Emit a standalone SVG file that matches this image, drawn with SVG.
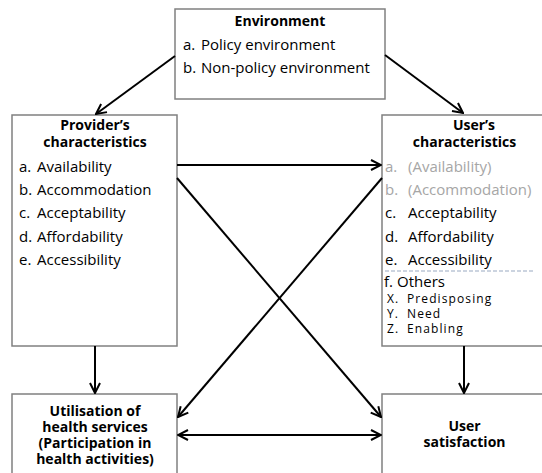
<svg xmlns="http://www.w3.org/2000/svg" width="542" height="473" viewBox="0 0 542 473">
  <style>
    .box { fill: #ffffff; stroke: #808080; stroke-width: 1.5; }
    .t { font-family: "Open Sans", "Liberation Sans", sans-serif; font-size: 15px; fill: #000000; }
    .h { font-family: "Open Sans", "Liberation Sans", sans-serif; font-size: 14px; font-weight: bold; fill: #000000; text-anchor: middle; }
    .g { fill: #a6a6a6; }
    .s { font-size: 12px; letter-spacing: 1.1px; }
    .edge { stroke: #000000; stroke-width: 2; fill: none; }
  </style>
  <defs>
    <marker id="arrow" viewBox="0 0 12 12" refX="11" refY="6" markerWidth="12" markerHeight="12" markerUnits="userSpaceOnUse" orient="auto-start-reverse">
      <path d="M1,1 L11,6 L1,11" fill="none" stroke="#000000" stroke-width="2"/>
    </marker>
  </defs>
  <rect width="542" height="473" fill="#ffffff"/>

  <g id="environment">
    <rect class="box" x="175" y="9" width="210" height="90"/>
    <text class="h" x="280" y="26">Environment</text>
    <text class="t" y="50"><tspan x="183">a.</tspan><tspan x="201">Policy environment</tspan></text>
    <text class="t" y="73"><tspan x="183">b.</tspan><tspan x="201">Non-policy environment</tspan></text>
  </g>

  <g id="provider">
    <rect class="box" x="12" y="115" width="165" height="231"/>
    <text class="h" x="95" y="130">Provider’s</text>
    <text class="h" x="95" y="147">characteristics</text>
    <text class="t" y="172"><tspan x="19">a.</tspan><tspan x="37">Availability</tspan></text>
    <text class="t" y="195"><tspan x="19">b.</tspan><tspan x="37">Accommodation</tspan></text>
    <text class="t" y="218"><tspan x="19">c.</tspan><tspan x="37">Acceptability</tspan></text>
    <text class="t" y="242"><tspan x="19">d.</tspan><tspan x="37">Affordability</tspan></text>
    <text class="t" y="265"><tspan x="19">e.</tspan><tspan x="37">Accessibility</tspan></text>
  </g>

  <g id="user">
    <rect class="box" x="382" y="115" width="170" height="231"/>
    <text class="h" x="474" y="130">User’s</text>
    <text class="h" x="464.5" y="147">characteristics</text>
    <text class="t g" y="172"><tspan x="385">a.</tspan><tspan x="408">(Availability)</tspan></text>
    <text class="t g" y="195"><tspan x="385">b.</tspan><tspan x="408">(Accommodation)</tspan></text>
    <text class="t" y="218"><tspan x="385">c.</tspan><tspan x="408">Acceptability</tspan></text>
    <text class="t" y="242"><tspan x="385">d.</tspan><tspan x="408">Affordability</tspan></text>
    <text class="t" y="265"><tspan x="385">e.</tspan><tspan x="408">Accessibility</tspan></text>
    <line x1="385" y1="271" x2="533" y2="271" stroke="#9aa9c2" stroke-width="1.2" stroke-dasharray="4,2"/>
    <text class="t" y="287"><tspan x="384">f.</tspan><tspan x="397">Others</tspan></text>
    <text class="t s" y="303"><tspan x="387">X.</tspan><tspan x="407">Predisposing</tspan></text>
    <text class="t s" y="318"><tspan x="387">Y.</tspan><tspan x="407">Need</tspan></text>
    <text class="t s" y="333"><tspan x="387">Z.</tspan><tspan x="407">Enabling</tspan></text>
  </g>

  <g id="utilisation">
    <rect class="box" x="12" y="394" width="165" height="90"/>
    <text class="h" x="95" y="416">Utilisation of</text>
    <text class="h" x="95" y="432">health services</text>
    <text class="h" x="95" y="448">(Participation in</text>
    <text class="h" x="95" y="464">health activities)</text>
  </g>

  <g id="satisfaction">
    <rect class="box" x="382" y="394" width="170" height="90"/>
    <text class="h" x="464.5" y="431">User</text>
    <text class="h" x="464.5" y="447">satisfaction</text>
  </g>

  <g id="connectors">
    <line class="edge" x1="175" y1="56" x2="96" y2="114" marker-end="url(#arrow)"/>
    <line class="edge" x1="385" y1="55" x2="463" y2="113" marker-end="url(#arrow)"/>
    <line class="edge" x1="177" y1="165" x2="381" y2="165" marker-end="url(#arrow)"/>
    <line class="edge" x1="177" y1="178" x2="381" y2="417" marker-end="url(#arrow)"/>
    <line class="edge" x1="382" y1="178" x2="178" y2="417" marker-end="url(#arrow)"/>
    <line class="edge" x1="95" y1="346" x2="95" y2="393" marker-end="url(#arrow)"/>
    <line class="edge" x1="464" y1="346" x2="464" y2="393" marker-end="url(#arrow)"/>
    <line class="edge" x1="178" y1="435" x2="381" y2="435" marker-start="url(#arrow)" marker-end="url(#arrow)"/>
  </g>
</svg>
